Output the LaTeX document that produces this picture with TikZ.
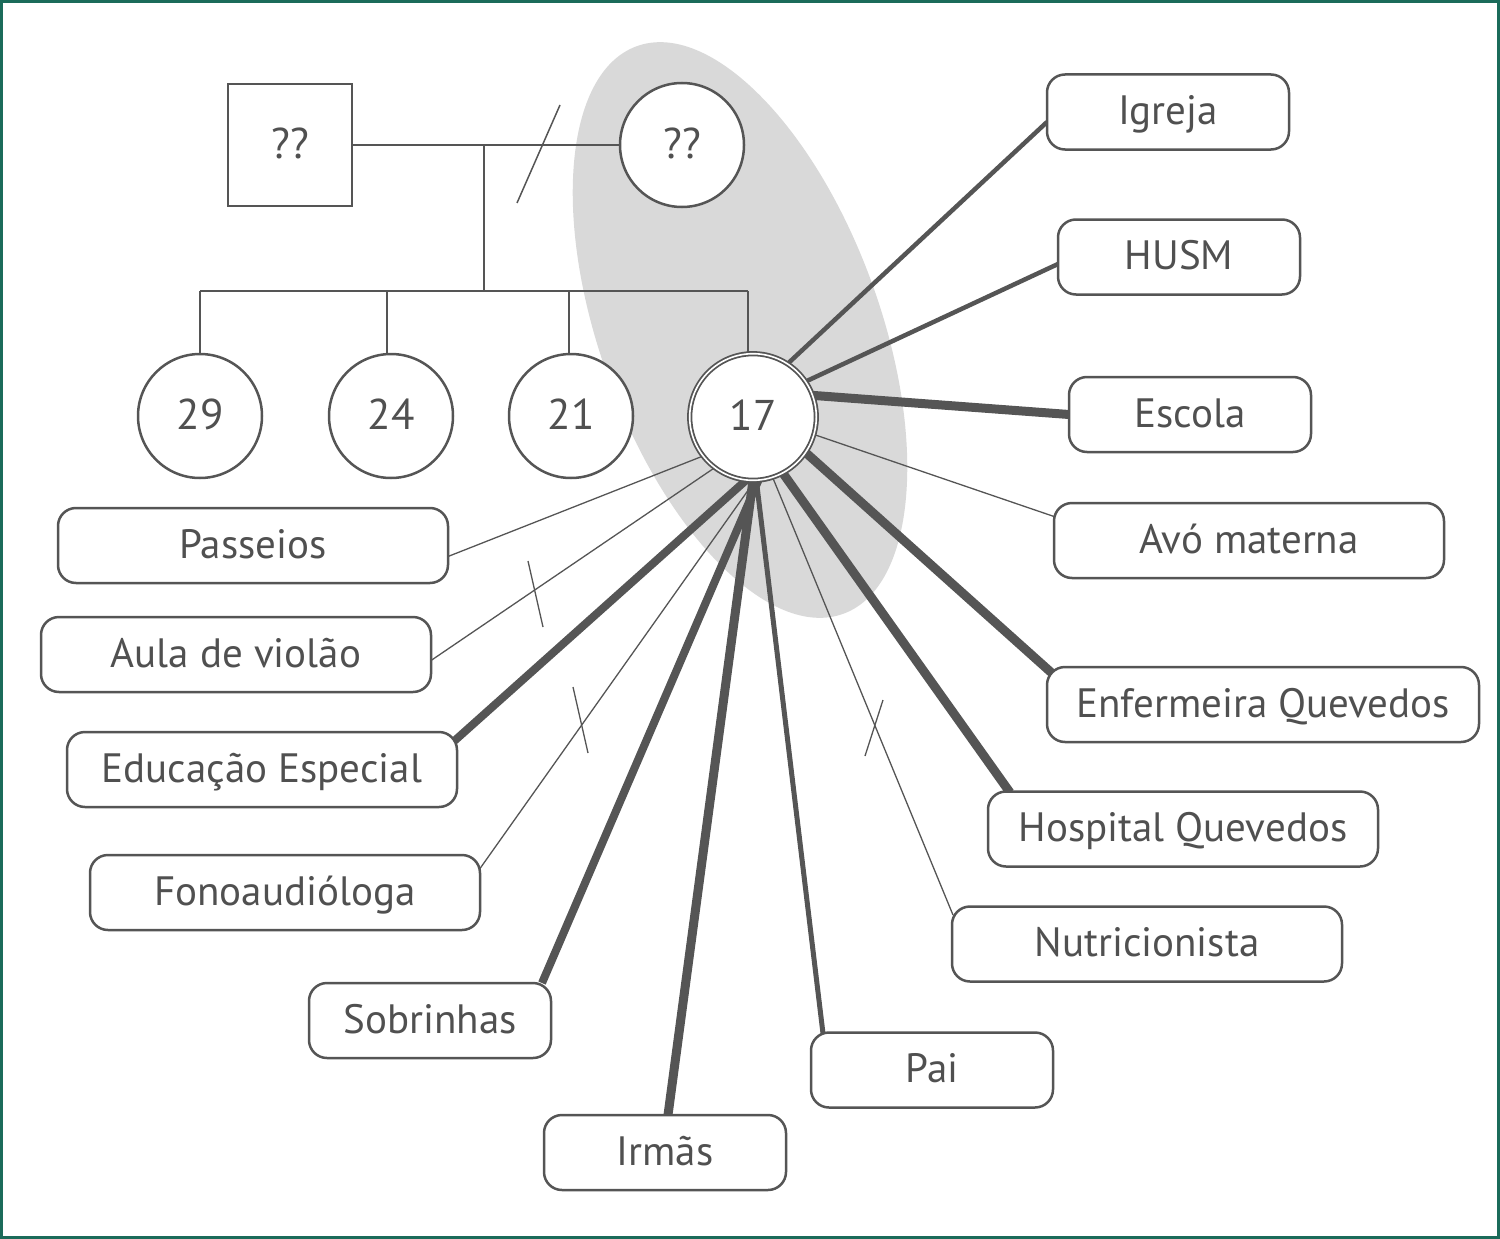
\documentclass[tikz,border=0pt]{standalone}
\usepackage{fontspec}
\setmainfont{PT Sans}
\usetikzlibrary{calc}
\pgfdeclarelayer{bg}
\pgfsetlayers{bg,main}
\definecolor{ink}{HTML}{555555}
\definecolor{txt}{HTML}{505050}
\definecolor{framec}{HTML}{1B6B5A}
\definecolor{ellgray}{HTML}{D9D9D9}
\begin{document}
\begin{tikzpicture}[x=1pt,y=-1pt,
  box/.style={draw=ink, line width=2.5pt, rounded corners=18pt, fill=white,
    minimum height=75pt, inner sep=0pt, outer sep=0pt, text=txt,
    font=\fontsize{41}{48}\selectfont, text height=33pt, text depth=8pt},
  sbox/.style={box, minimum width=242pt},
  lbox/.style={box, minimum width=390pt},
  person/.style={circle, draw=ink, line width=2.5pt, fill=white, minimum size=124pt,
    inner sep=0pt, outer sep=0pt, text=txt, font=\fontsize{43}{50}\selectfont,
    text height=30pt, text depth=4pt},
  ego/.style={person, line width=1.8pt, double=white, double distance=1.6pt, minimum size=126.6pt},
  malebox/.style={rectangle, draw=ink, line width=2.5pt, fill=white, minimum width=124pt,
    minimum height=122pt, inner sep=0pt, text=txt, font=\fontsize{43}{50}\selectfont,
    text height=30pt, text depth=4pt},
  gen/.style={draw=ink, line width=1.5pt},
  weak/.style={draw=ink, line width=1.3pt, shorten <=-12pt},
  mid/.style={draw=ink, line width=4.5pt, shorten <=-12pt},
  midp/.style={draw=ink, line width=5pt, shorten <=-12pt},
  strong/.style={draw=ink, line width=9pt, shorten <=-12pt},
  strongb/.style={draw=ink, line width=8pt, shorten <=-12pt},
  tickmark/.style={draw=ink, line width=1.3pt}
]
\useasboundingbox (0,0) rectangle (1500,1239);

% genogram
\node[malebox] (fa) at (290,145) {??};
\node[person] (mo) at (682,145) {??};
\node[person] (k29) at (200,416) {29};
\node[person] (k24) at (391,416) {24};
\node[person] (k21) at (571,416) {21};
\node[ego] (k17) at (753,417) {17};

% relations
\node[sbox] (igreja) at (1168,112) {Igreja};
\node[sbox] (husm) at (1179,257) {HUSM};
\node[sbox] (escola) at (1190,414.5) {Escola};
\node[lbox] (avo) at (1249,540.5) {Avó materna};
\node[box, minimum width=432pt] (enf) at (1263,704.5) {Enfermeira Quevedos};
\node[lbox] (hosp) at (1183,829) {Hospital Quevedos};
\node[lbox] (nutri) at (1147,944) {Nutricionista};
\node[sbox] (pai) at (932,1070) {Pai};
\node[sbox] (irmas) at (665,1152.5) {Irmãs};
\node[sbox] (sobr) at (430,1020.5) {Sobrinhas};
\node[lbox] (fono) at (285,892.5) {Fonoaudióloga};
\node[lbox] (edu) at (262,769.5) {Educação Especial};
\node[lbox] (aula) at (236,654.5) {Aula de violão};
\node[lbox] (pass) at (253,545.5) {Passeios};

\coordinate (j1) at (484,145);
\coordinate (j2) at (484,291);
\coordinate (d29) at (200,291);
\coordinate (d24) at (387,291);
\coordinate (d21) at (569,291);
\coordinate (d17) at (748,291);
\coordinate (s1) at (560,105);
\coordinate (s2) at (517,203);
\coordinate (m1a) at (528,561);
\coordinate (m1b) at (543,627);
\coordinate (m2a) at (573,687);
\coordinate (m2b) at (588,753);
\coordinate (m3a) at (883,700);
\coordinate (m3b) at (865,756);

\begin{pgfonlayer}{bg}
\fill[ellgray, rotate around={20:(740,330)}] (740,330) ellipse [x radius=140, y radius=302];

\draw[gen] (fa.east) -- (mo.west);
\draw[gen] (j1) -- (j2);
\draw[gen] (d29) -- (d17);
\draw[gen] (d29) -- (k29.north);
\draw[gen] (d24) -- (d24 |- k24.north);
\draw[gen] (d21) -- (d21 |- k21.north);
\draw[gen] (d17) -- (d17 |- k17.north);
\draw[gen] (s1) -- (s2);

\draw[mid] (k17.57) -- ($(igreja.west)+(0,10)$);
\draw[mid] (k17.34) -- ($(husm.west)+(0,7)$);
\draw[strong] (k17.20.6) -- (escola.west);
\draw[weak] (k17.-16) -- ($(avo.west)+(0,-24)$);
\draw[strong] (k17.-34) -- ($(enf.north west)+(7,8)$);
\draw[strong] (k17.-62) -- ($(hosp.north west)+(22,1)$);
\draw[weak] (k17.-72) -- ($(nutri.west)+(1,-29)$);
\draw[midp] (k17.-87.5) -- ($(pai.north west)+(12,1)$);
\draw[strong] (k17.-90.5) -- ($(irmas.north)+(3,0)$);
\draw[strongb] (k17.-85.5) -- ($(sobr.north east)+(-9,0)$);
\draw[weak] (k17.-88.7) -- ($(fono.east)+(0,-24)$);
\draw[strongb] (k17.-96) -- ($(edu.north east)+(-5,11)$);
\draw[weak] (k17.-127.5) -- ($(aula.east)+(0,6)$);
\draw[weak] (k17.-142.7) -- ($(pass.east)+(0,11)$);

\draw[tickmark] (m1a) -- (m1b);
\draw[tickmark] (m2a) -- (m2b);
\draw[tickmark] (m3a) -- (m3b);
\end{pgfonlayer}

\draw[framec, line width=3pt] (1.5,1.5) rectangle (1498.5,1237.5);
\end{tikzpicture}
\end{document}
